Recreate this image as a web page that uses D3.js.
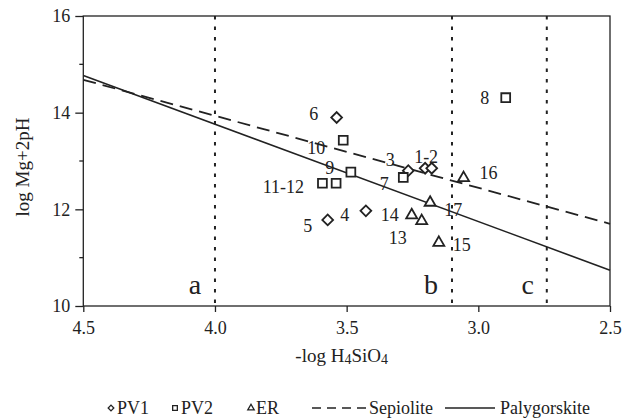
<!DOCTYPE html>
<html>
<head>
<meta charset="utf-8">
<script src="https://cdn.jsdelivr.net/npm/d3@7"></script>
<style>
  body { margin: 0; background: #fff; }
  text { font-family: "Liberation Serif", "DejaVu Serif", serif; fill: #222; }
</style>
</head>
<body>
<svg id="chart" width="624" height="418"></svg>
<script>
// -log H4SiO4, log Mg+2pH
const pv1Names = ['1', '2', '3', '4', '5', '6']
const pv1X = [3.202, 3.177, 3.266, 3.427, 3.572, 3.538]
const pv1Y = [12.85, 12.85, 12.80, 11.97, 11.78, 13.90]

const pv2Names = ['7', '8', '9', '10', '11', '12']
const pv2X = [3.285, 2.896, 3.484, 3.513, 3.592, 3.540]
const pv2Y = [12.66, 14.31, 12.77, 13.43, 12.54, 12.54]

const erNames = ['13', '14', '15', '16', '17']
const erX = [3.215, 3.253, 3.150, 3.056, 3.183]
const erY = [11.76, 11.88, 11.31, 12.65, 12.14]

// stability lines (end points)
const sepioliteX = [4.5, 2.5]
const sepioliteY = [14.68, 11.70]
const palygorskiteX = [4.5, 2.5]
const palygorskiteY = [14.77, 10.74]

// zone borders
const zoneNames = ['a', 'b', 'c']
const zoneX = [4.0, 3.1, 2.74]

const xTicks = [4.5, 4.0, 3.5, 3.0, 2.5]
const yTicks = [10, 12, 14, 16]
const yMinorTicks = [11, 13, 15]

const svg = d3.select('#chart')
const mLeft = 83.3, mRight = 610, mTop = 16, mBottom = 306

const x = d3.scaleLinear().domain([4.5, 2.5]).range([mLeft, mRight])
const y = d3.scaleLinear().domain([10, 16]).range([mBottom, mTop])

const ink = '#222'

// axes
const xAxis = svg.append('g')
  .attr('transform', `translate(0,${mBottom})`)
  .call(d3.axisBottom(x).tickValues(xTicks).tickFormat(d3.format('.1f')).tickSize(6).tickSizeOuter(0))
xAxis.select('.domain').remove()
xAxis.selectAll('line').attr('stroke', ink).attr('stroke-width', 1.3)
xAxis.selectAll('text').attr('font-size', 18).attr('dy', '1.05em').style('font-family', '"Liberation Serif", serif').attr('fill', ink)

const yAxis = svg.append('g')
  .attr('transform', `translate(${mLeft},0)`)
  .call(d3.axisLeft(y).tickValues(yTicks).tickFormat(d3.format('d')).tickSize(8).tickPadding(5).tickSizeOuter(0))
yAxis.select('.domain').remove()
yAxis.selectAll('line').attr('stroke', ink).attr('stroke-width', 1.3)
yAxis.selectAll('text').attr('font-size', 18).style('font-family', '"Liberation Serif", serif').attr('fill', ink)

svg.append('g')
  .selectAll('line')
  .data(yMinorTicks)
  .join('line')
  .attr('x1', mLeft - 4).attr('x2', mLeft)
  .attr('y1', (d) => y(d)).attr('y2', (d) => y(d))
  .attr('stroke', ink).attr('stroke-width', 1.3)

// zone borders
svg.append('g')
  .selectAll('line')
  .data(zoneX)
  .join('line')
  .attr('x1', (d) => x(d)).attr('x2', (d) => x(d))
  .attr('y1', mTop).attr('y2', mBottom)
  .attr('stroke', ink).attr('stroke-width', 2)
  .attr('stroke-dasharray', '3.5,7')

svg.append('g')
  .selectAll('text')
  .data(zoneNames)
  .join('text')
  .attr('x', (d, i) => x(zoneX[i]) + [-20, -21, -19][i])
  .attr('y', 294)
  .attr('text-anchor', 'middle')
  .attr('font-size', 28)
  .text((d) => d)

// stability lines
const line = d3.line().x((d) => x(d[0])).y((d) => y(d[1]))
svg.append('path')
  .datum(d3.zip(sepioliteX, sepioliteY))
  .attr('d', line)
  .attr('fill', 'none').attr('stroke', ink).attr('stroke-width', 1.8)
  .attr('stroke-dasharray', '13,7')
svg.append('path')
  .datum(d3.zip(palygorskiteX, palygorskiteY))
  .attr('d', line)
  .attr('fill', 'none').attr('stroke', ink).attr('stroke-width', 1.6)

// frame
svg.append('rect')
  .attr('x', mLeft).attr('y', mTop)
  .attr('width', mRight - mLeft).attr('height', mBottom - mTop)
  .attr('fill', 'none').attr('stroke', ink).attr('stroke-width', 1.3)

// points
const series = [
  { names: pv1Names, xs: pv1X, ys: pv1Y, type: d3.symbolSquare, size: 58, rotate: 45 },
  { names: pv2Names, xs: pv2X, ys: pv2Y, type: d3.symbolSquare, size: 78, rotate: 0 },
  { names: erNames, xs: erX, ys: erY, type: d3.symbolTriangle, size: 52, rotate: 0 },
]
series.forEach((s) => {
  svg.append('g')
    .selectAll('path')
    .data(s.names.map((n, i) => ({ name: n, x: s.xs[i], y: s.ys[i] })))
    .join('path')
    .attr('d', d3.symbol().type(s.type).size(s.size))
    .attr('transform', (d) => `translate(${x(d.x)},${y(d.y)}) rotate(${s.rotate})`)
    .attr('fill', '#fff').attr('stroke', ink).attr('stroke-width', 1.8)
})

// point labels: text, anchor point, pixel offset
const pointLabels = [
  ['1-2', pv1X[0], pv1Y[0], 1, -12],
  ['3', pv1X[2], pv1Y[2], -18, -11],
  ['4', pv1X[3], pv1Y[3], -21, 4],
  ['5', pv1X[4], pv1Y[4], -20, 6],
  ['6', pv1X[5], pv1Y[5], -23, -4],
  ['7', pv2X[0], pv2Y[0], -19, 6],
  ['8', pv2X[1], pv2Y[1], -21, 0],
  ['9', pv2X[2], pv2Y[2], -21, -4],
  ['10', pv2X[3], pv2Y[3], -27, 7],
  ['11-12', pv2X[4], pv2Y[4], -39, 3],
  ['13', erX[0], erY[0], -24, 17],
  ['14', erX[1], erY[1], -22, 0],
  ['15', erX[2], erY[2], 23, 2],
  ['16', erX[3], erY[3], 25, -5],
  ['17', erX[4], erY[4], 23, 7],
]
svg.append('g')
  .selectAll('text')
  .data(pointLabels)
  .join('text')
  .attr('x', (d) => x(d[1]) + d[3])
  .attr('y', (d) => y(d[2]) + d[4])
  .attr('dy', '0.35em')
  .attr('text-anchor', 'middle')
  .attr('font-size', 18)
  .text((d) => d[0])

// axis titles
const xt = svg.append('text')
  .attr('x', (mLeft + mRight) / 2 - 5).attr('y', 362)
  .attr('text-anchor', 'middle')
  .attr('font-size', 19)
xt.append('tspan').text('-log H')
xt.append('tspan').attr('font-size', 14).attr('dy', 2).text('4')
xt.append('tspan').attr('dy', -2).text('SiO')
xt.append('tspan').attr('font-size', 14).attr('dy', 2).text('4')

svg.append('text')
  .attr('transform', `translate(29,${(mTop + mBottom) / 2 + 6}) rotate(-90)`)
  .attr('text-anchor', 'middle')
  .attr('font-size', 19)
  .text('log Mg+2pH')

// legend
const legendY = 408
const legend = svg.append('g')
const legendSymbols = [
  { type: d3.symbolSquare, size: 16, rotate: 45, cx: 111, label: 'PV1', tx: 117 },
  { type: d3.symbolSquare, size: 22, rotate: 0, cx: 175, label: 'PV2', tx: 181 },
  { type: d3.symbolTriangle, size: 18, rotate: 0, cx: 251, label: 'ER', tx: 256 },
]
legendSymbols.forEach((s) => {
  legend.append('path')
    .attr('d', d3.symbol().type(s.type).size(s.size))
    .attr('transform', `translate(${s.cx},${legendY}) rotate(${s.rotate})`)
    .attr('fill', '#fff').attr('stroke', ink).attr('stroke-width', 1.3)
  legend.append('text')
    .attr('x', s.tx).attr('y', legendY).attr('dy', '0.35em')
    .attr('font-size', 18).text(s.label)
})
legend.append('line')
  .attr('x1', 312).attr('x2', 367).attr('y1', legendY).attr('y2', legendY)
  .attr('stroke', ink).attr('stroke-width', 1.5).attr('stroke-dasharray', '9,6')
legend.append('text')
  .attr('x', 369).attr('y', legendY).attr('dy', '0.35em')
  .attr('font-size', 18).text('Sepiolite')
legend.append('line')
  .attr('x1', 445).attr('x2', 495).attr('y1', legendY).attr('y2', legendY)
  .attr('stroke', ink).attr('stroke-width', 1.5)
legend.append('text')
  .attr('x', 500).attr('y', legendY).attr('dy', '0.35em')
  .attr('font-size', 18).text('Palygorskite')
</script>
</body>
</html>
